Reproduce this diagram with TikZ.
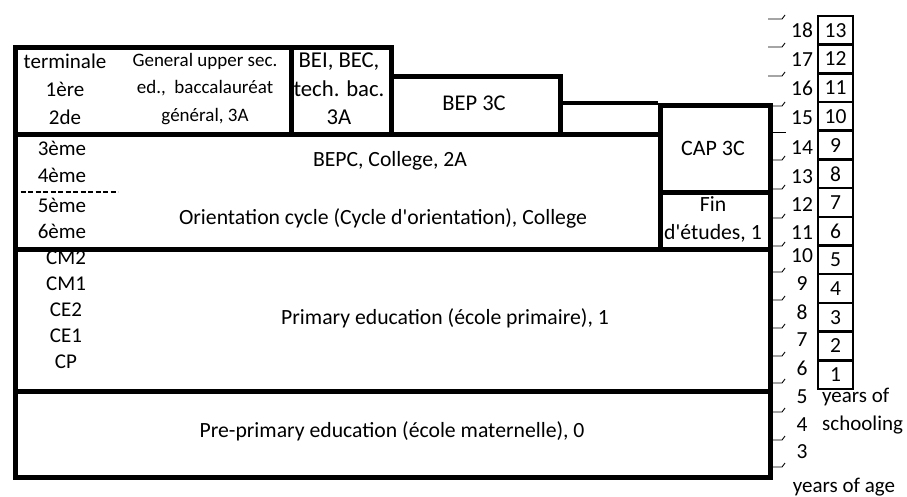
\documentclass[tikz,border=0pt]{standalone}
\usepackage{fontspec}
\setmainfont{Carlito}[Ligatures=TeXOff]
\begin{document}
\begin{tikzpicture}[x=1pt,y=-1pt,
  box/.style={draw, line width=4.5pt, inner sep=0pt, anchor=north west},
  txt/.style={font=\fontsize{21.7}{28}\selectfont, align=center, inner sep=0pt},
  grd/.style={font=\fontsize{21}{26}\selectfont, align=center, inner sep=0pt},
  sbox/.style={draw, line width=2.5pt, minimum width=35pt, minimum height=28.7pt, inner sep=0pt, font=\fontsize{21.5}{25}\selectfont},
  age/.style={font=\fontsize{21.5}{25}\selectfont, inner sep=0pt},
  tick/.style={line width=0.9pt}]
\useasboundingbox (0,0) rectangle (907,496);
% main boxes
\node[box, minimum width=276pt, minimum height=87pt] (upper) at (13,45) {};
\node[box, minimum width=100pt, minimum height=87pt] (bei) at (289,45) {};
\node[box, minimum width=169pt, minimum height=58pt] (bep) at (389,74) {};
\node[box, minimum width=110pt, minimum height=87pt] (cap) at (658,103) {};
\node[box, minimum width=645pt, minimum height=115pt] (bepc) at (13,132) {};
\node[box, minimum width=110pt, minimum height=57pt] (fin) at (658,190) {};
\node[box, minimum width=755pt, minimum height=142pt] (prim) at (13,247) {};
\node[box, minimum width=755pt, minimum height=86pt] (pre) at (13,389) {};
\coordinate (capl) at (cap.north west);
\draw[line width=4.5pt] (bep.north east |- capl) -- (capl);
% dashed line
\coordinate (dashA) at (13,192);
\coordinate (dashB) at (118,192);
\draw[line width=2pt, dashed, dash pattern=on 5pt off 2.5pt] (dashA) -- (dashB);
% texts
\node[grd, font=\fontsize{21}{28}\selectfont] (tgrades) at (65,89) {terminale\\1ère\\2de};
\node[txt, font=\fontsize{19}{27.5}\selectfont] (tgen) at (205,89) {General upper sec.\\ed.,\ \ baccalauréat\\général, 3A};
\node[txt, font=\fontsize{22.7}{28.5}\selectfont] (tbei) at (339,89) {BEI, BEC,\\tech. bac.\\3A};
\node[txt, font=\fontsize{22.5}{28}\selectfont] (tbep) at (474,103) {BEP 3C};
\node[grd] (t3) at (62,148) {3ème};
\node[grd] (t4) at (62,175) {4ème};
\node[grd] (t5) at (62,205) {5ème};
\node[grd] (t6) at (62,231) {6ème};
\node[txt] (tbepc) at (390,161) {BEPC, College, 2A};
\node[txt] (torient) at (383,218) {Orientation cycle (Cycle d'orientation), College};
\node[txt, font=\fontsize{22}{28}\selectfont] (tcap) at (713,148) {CAP 3C};
\node[txt] (tfin) at (713,219) {Fin\\d'études, 1};
\node[grd] (tprimg) at (66,310) {CM2\\CM1\\CE2\\CE1\\CP};
\node[txt] (tprim) at (445,318) {Primary education (école primaire), 1};
\node[txt] (tpre) at (392,431) {Pre-primary education (école maternelle), 0};
% schooling boxes
\foreach \n in {1,...,13} {
  \node[sbox] (s\n) at (835.5, {389-28.7*(\n-1)-14.35}) {\n};
}
% ages
\foreach \a/\y in {18/30,17/60,16/88,15/118,14/148,13/177,12/205,11/233,10/256,9/284,8/312,7/340,6/368,5/397,4/425,3/452} {
  \node[age] (a\a) at (802,\y) {\a};
}
\foreach \y in {19,47,76,106,160,189,218,246,272,300,328,356,383,412,440,467} {
  \draw[tick] (768,\y) -- (782,\y) -- (785,\y-4);
}
\draw[tick] (770,132) -- (786,132);
\node[txt, font=\fontsize{21}{28}\selectfont, align=left, anchor=west] (tys) at (822,411) {years of\\schooling};
\node[txt, font=\fontsize{21}{28}\selectfont] (tya) at (844,487) {years of age};
\end{tikzpicture}
\end{document}
